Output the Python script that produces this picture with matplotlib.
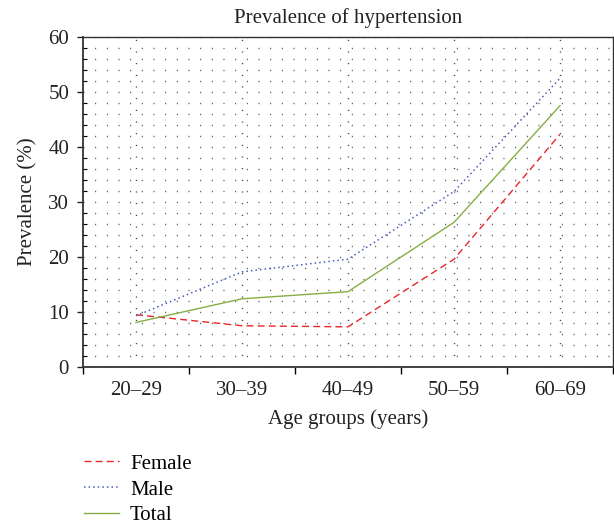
import matplotlib
matplotlib.use("Agg")
import matplotlib.pyplot as plt
import numpy as np

age_groups = ["20\u201329", "30\u201339", "40\u201349", "50\u201359", "60\u201369"]
female = [9.5, 7.5, 7.3, 19.6, 42.3]
male = [9.3, 17.3, 19.6, 31.9, 52.5]
total = [8.1, 12.4, 13.7, 26.3, 47.5]

plt.rcParams['font.family'] = ['Liberation Serif', 'DejaVu Serif']
plt.rcParams['font.size'] = 15
FS = 15
TXT = '#222222'

fig = plt.figure(figsize=(6.14, 5.24), dpi=100)
ax = fig.add_axes([83/614, 157/524, 530/614, 330/524])

x = np.arange(len(age_groups)) + 0.5

# dotted grid
for yv in np.arange(0, 61, 2):
    ax.axhline(yv, color='#444444', lw=1.0, ls=(0, (0.7, 7.7)), zorder=0)
for xv in x:
    ax.axvline(xv, color='#222222', lw=1.0, ls=(0, (0.7, 7.7)), zorder=0)

ax.plot(x, female, color='#E8262B', lw=1.0, ls=(0, (5, 3)), label='Female')
ax.plot(x, male, color='#4B5DB8', lw=1.1, ls=(0, (1, 2)), label='Male')
ax.plot(x, total, color='#86AE44', lw=1.0, ls='-', label='Total')

ax.set_xlim(0, len(age_groups))
ax.set_ylim(0, 60)
ax.set_xticks(np.arange(0, len(age_groups) + 1))
ax.set_xticklabels([])
ax.set_xticks(x, minor=True)
ax.set_xticklabels(age_groups, minor=True)
ax.tick_params(axis='x', which='major', direction='out', length=5, width=1)
ax.tick_params(axis='x', which='minor', length=0, pad=10, labelsize=FS, colors=TXT)
ax.set_yticks(np.arange(0, 61, 10))
ax.set_yticks(np.arange(0, 61, 2), minor=True)
ax.tick_params(axis='y', which='major', direction='out', length=4, width=1, pad=6, labelsize=FS, colors=TXT)
ax.tick_params(axis='y', which='minor', direction='in', length=3, width=0.8)

for s in ax.spines.values():
    s.set_color('#333333')
    s.set_linewidth(1.0)
ax.spines['left'].set_linewidth(1.3)
ax.spines['bottom'].set_linewidth(1.3)

ax.set_title("Prevalence of hypertension", fontsize=FS, pad=10, color=TXT)
ax.set_xlabel("Age groups (years)", fontsize=FS, labelpad=7, color=TXT)
ax.set_ylabel("Prevalence (%)", fontsize=FS, labelpad=8, color=TXT)

fig.legend(loc='upper left', bbox_to_anchor=(80/614, 1 - 450/524), frameon=False,
           handlelength=1.65, handletextpad=0.55, labelspacing=0.3, fontsize=FS,
           borderpad=0.2, borderaxespad=0)

fig.savefig("out.png", dpi=100)
